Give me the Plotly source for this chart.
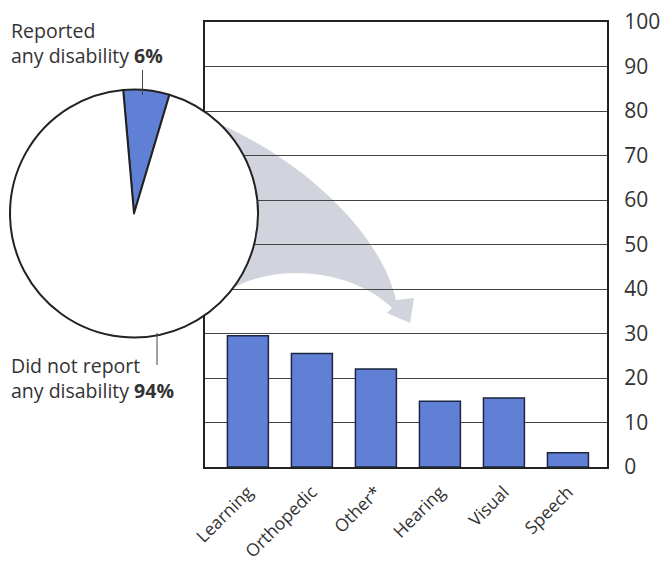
import plotly.graph_objects as go

W, H = 661, 567

# ---- data ----
categories = ["Learning", "Orthopedic", "Other*", "Hearing", "Visual", "Speech"]
bar_values = [29.5, 25.5, 22, 14.8, 15.5, 3.2]
pie_labels = ["Reported any disability", "Did not report any disability"]
pie_values = [6, 94]
y_ticks = [0, 10, 20, 30, 40, 50, 60, 70, 80, 90, 100]

BLUE = "rgb(96,128,214)"
EDGE = "#1d2640"
TXT = "#333333"
FONT = "Open Sans"


def px(x):
    return x / W


def py(y):
    return 1 - y / H


fig = go.Figure()

fig.add_trace(go.Bar(
    x=categories, y=bar_values,
    marker=dict(color=BLUE, line=dict(color=EDGE, width=1.5)),
    width=0.64, showlegend=False, hoverinfo="x+y",
))

fig.add_trace(go.Pie(
    labels=pie_labels, values=pie_values, sort=False,
    direction="clockwise", rotation=-5,
    marker=dict(colors=[BLUE, "white"], line=dict(color="#222222", width=2)),
    textinfo="none", showlegend=False,
    domain=dict(x=[px(10), px(258)], y=[py(337.5), py(89.5)]),
))

# curved arrow (decoration)
pts = dict(
    s=(222, 125), c1=(300, 160), c2=(380, 230), e=(396, 300),
    w1=(414, 298), tip=(410, 323), w2=(387, 313), e2=(392, 308),
    c3=(360, 275), c4=(285, 258), s2=(229, 290),
)


def P(k):
    x, y = pts[k]
    return f"{px(x):.5f},{py(y):.5f}"


path = (f"M {P('s')} C {P('c1')} {P('c2')} {P('e')} L {P('w1')} L {P('tip')} "
        f"L {P('w2')} L {P('e2')} C {P('c3')} {P('c4')} {P('s2')} Z")
fig.add_shape(type="path", path=path, xref="paper", yref="paper",
              fillcolor="rgba(165,170,188,0.5)", line=dict(width=0), layer="below")

# leader lines
fig.add_shape(type="line", xref="paper", yref="paper",
              x0=px(142.5), x1=px(142.5), y0=py(70), y1=py(95),
              line=dict(color="#444", width=1))
fig.add_shape(type="line", xref="paper", yref="paper",
              x0=px(157), x1=px(157), y0=py(333), y1=py(365),
              line=dict(color="#444", width=1))

ann_font = dict(family=FONT, size=19.5, color=TXT)
for text, x, y in [
    ("Reported<br>any disability <b>6%</b>", 9, 43),
    ("Did not report<br>any disability <b>94%</b>", 9, 378),
]:
    fig.add_annotation(text=text, x=px(x), y=py(y), xref="paper", yref="paper",
                       xanchor="left", yanchor="middle", align="left",
                       showarrow=False, font=ann_font)

fig.update_layout(
    width=W, height=H,
    margin=dict(l=0, r=0, t=0, b=0, autoexpand=False),
    paper_bgcolor="white", plot_bgcolor="rgba(0,0,0,0)",
    xaxis=dict(
        domain=[px(205), px(607)], range=[-0.67, 5.61],
        showline=True, linecolor="#222", linewidth=2, mirror=True,
        showgrid=False, ticks="", tickangle=-45, automargin=False,
        ticklabelstandoff=6,
        tickfont=dict(family=FONT, size=17.5, color=TXT),
    ),
    yaxis=dict(
        domain=[py(467), py(22)], range=[0, 100],
        side="right", tickvals=y_ticks, automargin=False,
        showline=True, linecolor="#222", linewidth=2, mirror=True,
        showgrid=True, gridcolor="#444", gridwidth=1.2,
        zeroline=False, ticks="", ticklabelstandoff=11,
        tickfont=dict(family=FONT, size=21, color=TXT),
    ),
)

fig.write_html("out.html", config={"displayModeBar": False},
               post_script="document.body.style.margin='0';")
